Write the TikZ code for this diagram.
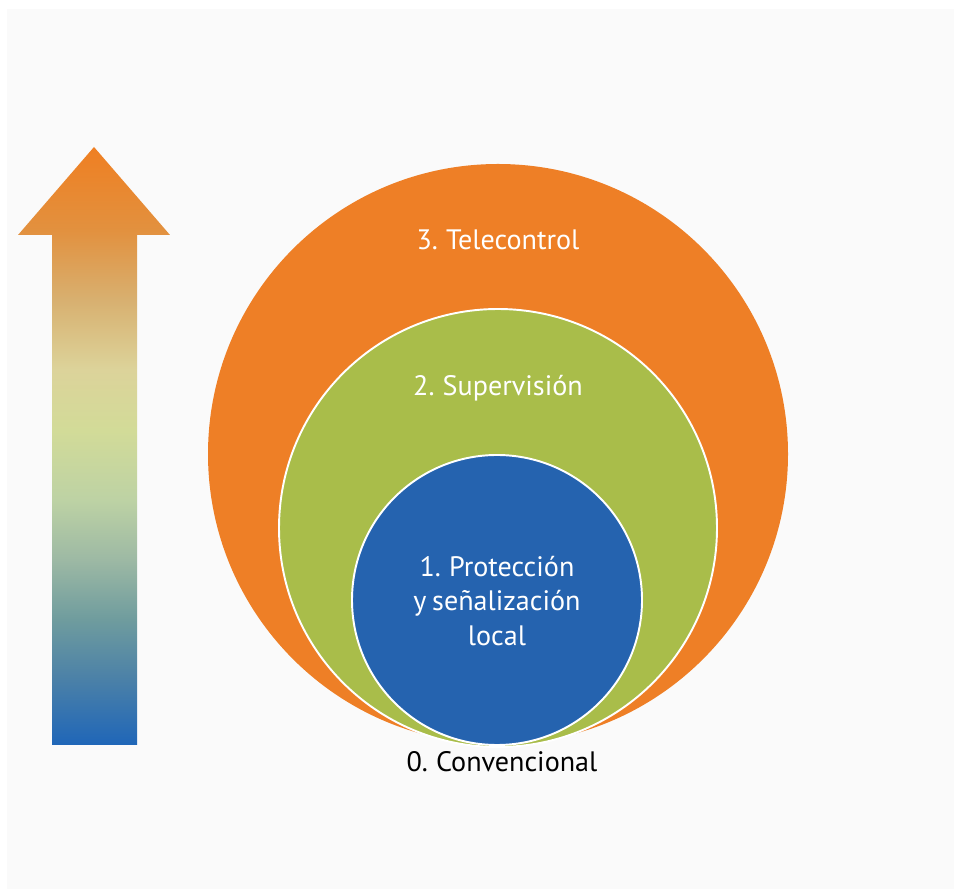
\documentclass[tikz,border=0pt]{standalone}
\usepackage{fontspec}
\setmainfont{PT Sans}[WordSpace=0.75]
\usetikzlibrary{positioning}
\definecolor{bggray}{HTML}{FAFAFA}
\definecolor{telorange}{HTML}{EE7F26}
\definecolor{supgreen}{HTML}{A9BD4A}
\definecolor{protblue}{HTML}{2563AF}
\definecolor{shadeA}{HTML}{1F66B8}
\definecolor{shadeB}{HTML}{4A80A8}
\definecolor{shadeC}{HTML}{6F9C9E}
\definecolor{shadeD}{HTML}{9DB9A4}
\definecolor{shadeE}{HTML}{BDD2A4}
\definecolor{shadeF}{HTML}{D2DB98}
\definecolor{shadeG}{HTML}{DCD39A}
\definecolor{shadeH}{HTML}{D8B070}
\definecolor{shadeI}{HTML}{E2913F}
\definecolor{shadeJ}{HTML}{EF7F22}
\pgfdeclareverticalshading{levelshade}{100bp}{%
  color(0bp)=(shadeA);
  color(25bp)=(shadeA);
  color(30.4bp)=(shadeB);
  color(35.5bp)=(shadeC);
  color(40.5bp)=(shadeD);
  color(45.5bp)=(shadeE);
  color(51.3bp)=(shadeF);
  color(56.4bp)=(shadeG);
  color(62.2bp)=(shadeH);
  color(68bp)=(shadeI);
  color(75bp)=(shadeJ);
  color(100bp)=(shadeJ)}

\begin{document}
\begin{tikzpicture}[
    ring/.style={circle,inner sep=0pt,draw=white,line width=1.1pt},
    lbl/.style={text=white,align=center,font=\fontsize{16}{19.4}\selectfont}
  ]
        \useasboundingbox (0,0) rectangle (19.08,17.78);
        \fill[white] (0,0) rectangle (19.08,17.78);
        \fill[bggray] (0.14,0) rectangle (19.08,17.6);
        % rising arrow
        \shade[shading=levelshade] (1.04,2.88) -- (2.74,2.88) -- (2.74,13.08) -- (3.4,13.08)
            -- (1.88,14.84) -- (0.36,13.08) -- (1.04,13.08) -- cycle;
        % nested levels
        \node[ring,draw=none,fill=telorange,minimum size=11.6cm] (tele) at (9.96,8.70) {};
        \node[ring,fill=supgreen,minimum size=8.76cm] (sup) at (9.96,7.22) {};
        \node[ring,fill=protblue,minimum size=5.8cm] (prot) at (9.94,5.78) {};
        \node[lbl] (teletext) at (9.96,12.98) {3. Telecontrol};
        \node[lbl] (suptext) at (9.96,10.02) {2. Supervisión};
        \node[lbl] (prottext) at (9.94,5.76) {1. Protección\\y señalización\\local};
        \node[lbl,text=black] (convtext) at (10.04,2.54) {0. Convencional};
    \end{tikzpicture}
\end{document}
